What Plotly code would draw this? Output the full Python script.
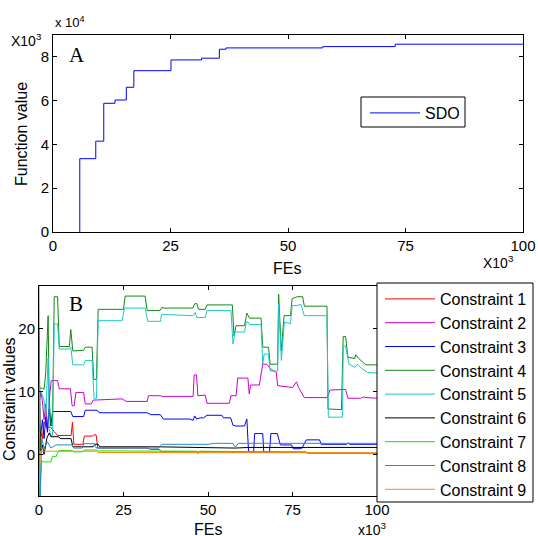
import plotly.graph_objects as go

W, H = 538, 536

# ---------------- Panel A data (FEs in 10^3, function value in 10^3) ----------------
fe_a = [5.7, 5.7, 9.1, 10.8, 13.2, 15.6, 17.2, 25.1, 31.6, 35.4, 36.8, 57.4, 72.8, 100.0]
fv_a = [0.0, 3.35, 4.15, 5.88, 6.03, 6.61, 7.37, 7.86, 7.94, 8.35, 8.41, 8.47, 8.58, 8.58]

# ---------------- Panel B data ----------------
c1_x = [0, 0.5, 1.0, 1.5, 2.2, 3.5, 4.5, 5.5, 9.5, 9.9, 10.3, 13.0, 13.4, 15.8, 16.3, 16.9, 17.4, 32, 33, 35.5, 36.3, 79, 80, 100]
c1_y = [0, 3.5, 2.5, 5.2, 4.3, 4.3, 3.6, 3.0, 3.0, 5.1, 1.6, 1.6, 2.9, 2.9, 3.1, 3.1, 1.0, 1.0, 0.8, 0.8, 0.4, 0.35, 0.2, 0.2]

c2_x = [0, 0.5, 1.0, 1.5, 2.0, 2.5, 3.2, 3.6, 5.5, 6.0, 9.3, 9.8, 10.4, 10.9, 13.2, 13.7, 15.5, 16.0, 24.6, 25.8, 32, 32.4, 36, 36.4,
        45.6, 45.9, 46.6, 47.0, 49.2, 49.7, 56.3, 56.8, 58.3, 58.8, 61.8, 62.2, 62.6, 65.2, 66.2, 67.4, 68.4, 70.2, 70.6, 75,
        76.2, 76.8, 78.5, 85.3, 86.1, 89.5, 90.0, 90.7, 91.4, 95.2, 96, 97, 100]
c2_y = [8, 10, 8.5, 5.5, 8.0, 4.0, 9.5, 11.7, 11.7, 10.4, 10.4, 7.7, 7.7, 9.8, 9.8, 8.0, 8.0, 8.6, 8.8, 8.4, 8.4, 9.3, 9.3, 9.2,
        9.2, 12.6, 12.6, 9.3, 9.4, 8.1, 8.1, 9.3, 9.3, 12.1, 12.1, 9.6, 11.0, 11.0, 14.3, 14.3, 13.6, 13.0, 10.9, 10.6,
        11.5, 10.6, 9.0, 9.0, 10.2, 10.2, 10.3, 10.3, 8.9, 8.9, 9.1, 9.0, 8.9]

c3_x = [0, 0.5, 1.0, 1.5, 2.0, 2.5, 3.0, 3.5, 4.0, 9.4, 10.0, 13.2, 13.7, 17.2, 17.8, 32, 33, 35.9, 36.8, 44.6, 45.6, 46.1, 46.6,
        47.7, 48.7, 49.7, 54.1, 54.6, 56.7, 57.4, 58.3, 60.8, 61.5, 62.0, 63.5, 63.8, 66.2, 66.5, 68.2, 68.6, 70.5, 71.4, 74.7,
        75.2, 77.2, 77.8, 79.1, 83, 83.5, 91, 91.5, 92, 100]
c3_y = [5, 3.0, 5.5, 2.5, 6.0, 3.5, 7.2, 4.5, 6.8, 6.8, 6.0, 6.0, 7.0, 7.0, 6.6, 6.6, 6.3, 6.3, 5.6, 5.6, 5.4, 6.1, 5.6,
        5.8, 5.8, 6.2, 6.2, 5.8, 5.8, 4.6, 4.5, 4.5, 5.6, 0.4, 0.4, 3.3, 3.3, 0.4, 0.4, 3.3, 3.3, 1.5, 1.5,
        0.9, 0.9, 1.0, 2.3, 2.3, 1.6, 1.6, 1.8, 1.6, 1.6]

c4_x = [0, 1.0, 1.5, 2.0, 2.7, 3.0, 3.5, 4.0, 4.5, 5.5, 6.0, 9.0, 9.4, 10.0, 13.2, 13.7, 15.7, 16.2, 17.0, 17.5, 25.0, 25.5,
        31.4, 32.0, 35.8, 36.3, 37.0, 45.5, 46.1, 46.7, 47.2, 49.2, 49.7, 57.2, 57.7, 58.3, 60.8, 61.5, 62.3, 65.7, 66.2, 67.9,
        68.4, 70.6, 70.9, 71.7, 72.5, 74.4, 74.9, 76.4, 78.0, 78.5, 85.2, 85.5, 89.5, 90.0, 90.7, 91.4, 93.4, 93.7, 94.6, 96.7, 100]
c4_y = [10.5, 10.5, 10.3, 13, 22, 9, 4.6, 4.6, 25, 25, 17.1, 17.1, 19.8, 16.4, 16.5, 17.0, 17.0, 11.9, 11.9, 23.0, 23.0, 25.1,
        25.1, 22.8, 22.8, 23.3, 23.2, 23.2, 23.9, 23.9, 23.0, 23.0, 23.7, 23.7, 18.8, 20.4, 20.4, 22.4, 21.6, 21.6, 17.0, 17.0,
        14.3, 14.3, 25.4, 16.4, 22.0, 22.0, 24.7, 25.0, 25.0, 23.5, 23.5, 7.2, 7.1, 18.7, 18.7, 15.4, 15.2, 15.8, 15.2, 14.2, 14.2]

c5_x = [0, 1.0, 1.5, 2.0, 2.7, 3.0, 3.5, 4.0, 4.5, 5.5, 6.0, 9.0, 9.4, 10.0, 13.2, 13.7, 15.7, 16.3, 17.0, 17.5, 24.6, 25.3,
        31.4, 32.2, 35.9, 36.3, 45.5, 46.2, 46.7, 49.2, 49.7, 56.8, 57.4, 58.0, 60.8, 61.3, 61.8, 62.3, 65.7, 66.2, 66.6, 67.9,
        68.4, 70.6, 70.9, 71.7, 72.6, 74.4, 74.9, 76.4, 77.5, 78.5, 85.2, 85.6, 89.8, 90.0, 90.7, 91.7, 93.5, 94.2, 95.5, 97.2, 100]
c5_y = [10, 9.5, 8.5, 6, 15.3, 4, 3.0, 3.0, 20.7, 20.7, 16.7, 16.7, 17.0, 14.2, 14.2, 14.9, 14.9, 8.9, 8.9, 21.2, 21.2, 23.2,
        23.2, 21.1, 21.1, 22.2, 22.0, 22.5, 21.7, 21.7, 22.8, 22.8, 17.5, 19.4, 19.4, 21.0, 21.0, 20.6, 20.6, 14.3, 15.9, 15.9,
        13.2, 13.2, 23.9, 14.9, 21.0, 20.7, 23.6, 23.6, 23.8, 22.0, 22.0, 5.9, 5.9, 17.2, 17.2, 14.3, 13.8, 14.3, 13.6, 13.0, 12.9]

c6_x = [0, 0.4, 1.0, 1.5, 2.3, 3.0, 3.5, 5.8, 6.3, 9.5, 10.0, 16.0, 16.5, 17.5, 18.0, 35, 58, 62, 100]
c6_y = [20, 0.5, 1.5, 0.0, 2.5, 3.4, 2.8, 2.8, 2.5, 2.5, 1.2, 1.2, 1.6, 1.6, 1.2, 1.2, 1.0, 1.1, 1.1]

c7_x = [0, 0.3, 0.8, 1.3, 3.5, 4.0, 5.0, 5.8, 9.8, 10.3, 13.0, 13.4, 17.0, 17.5, 46.5, 47.0, 47.5, 79, 79.5, 100]
c7_y = [26.7, -6.6, -1.0, -1.2, -1.2, -0.3, -0.4, 0.6, 0.6, 0.4, 0.4, 0.7, 0.7, 0.55, 0.5, 0.1, 0.5, 0.4, 0.15, 0.15]

c8_x = [0, 0.3, 0.8, 1.5, 2.5, 3.5, 5.0, 9.8, 10.3, 12.8, 13.3, 16.4, 17.0, 35.5, 36.3, 50, 52, 57.4, 57.8, 58.4, 58.9, 100]
c8_y = [3, -6.6, 2.5, 1.0, 2.0, 1.0, 1.5, 1.5, 1.0, 1.0, 1.7, 1.7, 1.0, 1.0, 1.6, 1.6, 1.75, 1.75, 1.3, 1.3, 1.75, 1.75]

c9_x = [0, 0.4, 17.0, 17.5, 100]
c9_y = [-5, 0.5, 0.5, 0.3, 0.25]

series_names = ["Constraint 1", "Constraint 2", "Constraint 3", "Constraint 4", "Constraint 5",
                "Constraint 6", "Constraint 7", "Constraint 8", "Constraint 9"]
series_x = [c1_x, c2_x, c3_x, c4_x, c5_x, c6_x, c7_x, c8_x, c9_x]
series_y = [c1_y, c2_y, c3_y, c4_y, c5_y, c6_y, c7_y, c8_y, c9_y]
colors = ["#ff0000", "#cc00cc", "#0000ff", "#128a12", "#1ec8c8", "#000000", "#00ee00", "#2288dd", "#ff8c00"]

ticks_x = [0, 25, 50, 75, 100]
ticks_ya = [0, 2, 4, 6, 8]
ticks_yb = [0, 10, 20]

FONT = "Liberation Sans, Arial, sans-serif"
SERIF = "Liberation Serif, Times New Roman, serif"


def px(x):
    return x / W


def py(y):
    return 1 - y / H


fig = go.Figure()

fig.add_trace(go.Scatter(x=fe_a, y=fv_a, mode="lines", line=dict(color="#0000ff", width=1, shape="hv"),
                         name="SDO", xaxis="x", yaxis="y", legend="legend"))

for name, xs, ys, col in zip(series_names, series_x, series_y, colors):
    fig.add_trace(go.Scatter(x=xs, y=ys, mode="lines", line=dict(color=col, width=1),
                             name=name, xaxis="x2", yaxis="y2", legend="legend2"))

axis_common = dict(showline=True, linecolor="black", linewidth=1, mirror="ticks", ticks="inside",
                   ticklen=4, tickcolor="black", showgrid=False, zeroline=False, automargin=False,
                   tickfont=dict(family=FONT, size=15, color="black"))

fig.update_layout(
    template="none",
    width=W, height=H, margin=dict(l=0, r=0, t=0, b=0, autoexpand=False),
    paper_bgcolor="white", plot_bgcolor="white",
    showlegend=True,
    xaxis=dict(domain=[px(53), px(523)], range=[0, 100], tickvals=ticks_x, anchor="y", **axis_common),
    yaxis=dict(domain=[py(232), py(35)], range=[0, 9], tickvals=ticks_ya, anchor="x", **axis_common),
    xaxis2=dict(domain=[px(39), px(377)], range=[0, 100], tickvals=ticks_x, anchor="y2", **axis_common),
    yaxis2=dict(domain=[py(496), py(286)], range=[-6.6, 26.7], tickvals=ticks_yb, anchor="x2", **axis_common),
    legend=dict(x=px(365), y=py(96), xanchor="left", yanchor="top", bgcolor="rgba(0,0,0,0)",
                borderwidth=0, font=dict(family=FONT, size=16, color="black"), itemwidth=50),
    legend2=dict(x=px(380), y=py(282), xanchor="left", yanchor="top", bgcolor="rgba(0,0,0,0)",
                 borderwidth=0, font=dict(family=FONT, size=16, color="black"), itemwidth=50),
    shapes=[
        dict(type="rect", xref="paper", yref="paper", x0=px(361), x1=px(465), y0=py(127), y1=py(97),
             line=dict(color="black", width=1), fillcolor="white", layer="above"),
        dict(type="rect", xref="paper", yref="paper", x0=px(377), x1=px(533), y0=py(502), y1=py(283),
             line=dict(color="black", width=1), fillcolor="white", layer="above"),
    ],
)

ann = [
    dict(text="x 10<sup>4</sup>", x=px(53), y=py(22), xanchor="left", size=13),
    dict(text="X10<sup>3</sup>", x=px(9), y=py(40), xanchor="left", size=14),
    dict(text="X10<sup>3</sup>", x=px(481), y=py(262), xanchor="left", size=14),
    dict(text="x10<sup>3</sup>", x=px(356), y=py(529), xanchor="left", size=14),
    dict(text="FEs", x=px(208), y=py(529), xanchor="center", size=16),
    dict(text="FEs", x=px(287), y=py(268), xanchor="center", size=16),
]
for a in ann:
    fig.add_annotation(text=a["text"], x=a["x"], y=a["y"], xref="paper", yref="paper",
                       xanchor=a["xanchor"], yanchor="middle", showarrow=False,
                       font=dict(family=FONT, size=a["size"], color="black"))

fig.add_annotation(text="Function value", x=px(21), y=py(134), xref="paper", yref="paper", textangle=-90,
                   xanchor="center", yanchor="middle",
                   showarrow=False, font=dict(family=FONT, size=16, color="black"))
fig.add_annotation(text="Constraint values", x=px(9), y=py(399), xref="paper", yref="paper", textangle=-90,
                   xanchor="center", yanchor="middle",
                   showarrow=False, font=dict(family=FONT, size=16, color="black"))
fig.add_annotation(text="A", x=px(77), y=py(55), xref="paper", yref="paper", showarrow=False,
                   xanchor="center", yanchor="middle",
                   font=dict(family=SERIF, size=21, color="black"))
fig.add_annotation(text="B", x=px(76), y=py(304), xref="paper", yref="paper", showarrow=False,
                   xanchor="center", yanchor="middle",
                   font=dict(family=SERIF, size=21, color="black"))

fig.write_html("out.html")
